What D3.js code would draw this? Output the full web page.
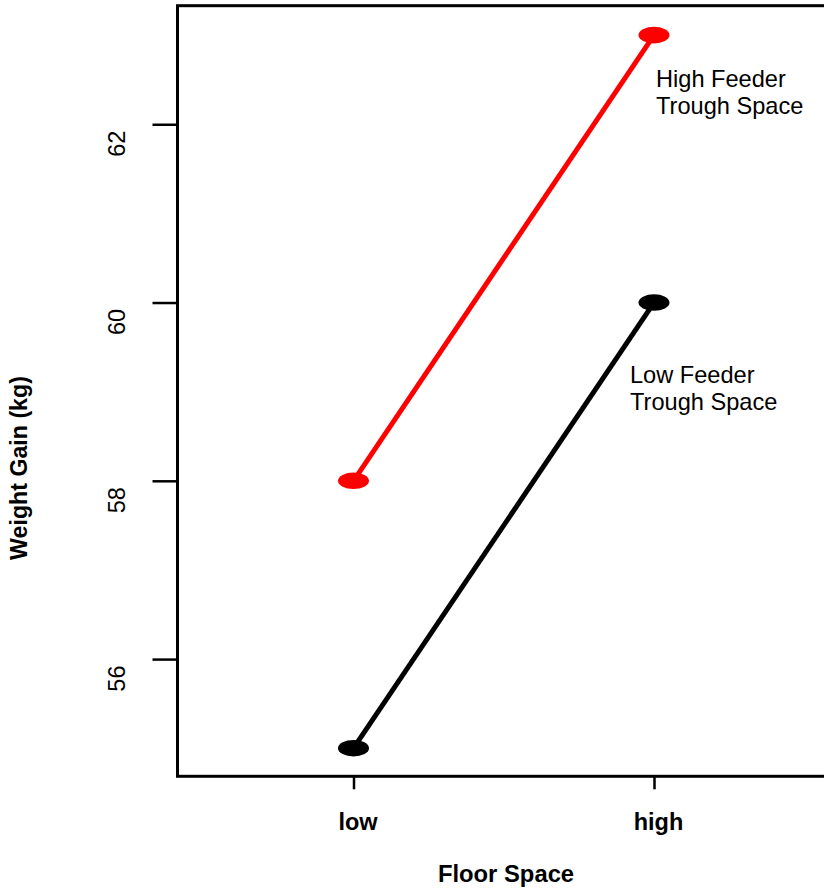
<!DOCTYPE html>
<html>
<head>
<meta charset="utf-8">
<script src="https://cdn.jsdelivr.net/npm/d3@7"></script>
<style>
  html, body { margin: 0; padding: 0; background: #fff; }
  svg { display: block; }
  text { font-family: "Liberation Sans", Arial, sans-serif; }
</style>
</head>
<body>
<svg id="chart" width="824" height="889"></svg>
<script>
// ---- data ----
const floorSpace = ["low", "high"];
const highFeeder = [58, 63];
const lowFeeder = [55, 60];
const yTicks = [56, 58, 60, 62];
const seriesLabels = [["High Feeder", "Trough Space"], ["Low Feeder", "Trough Space"]];
const seriesColors = ["#ff0000", "#000000"];
const xTitle = "Floor Space";
const yTitle = "Weight Gain (kg)";

// ---- layout ----
const svg = d3.select("#chart");
const boxL = 177.5, boxT = 5.7, boxB = 776.3, boxR = 832;

const x = d3.scaleLinear().domain([1, 2]).range([353.5, 654]);
const y = d3.scaleLinear().domain([54.685, 63.33]).range([boxB, boxT]);

// box
svg.append("rect")
  .attr("x", boxL).attr("y", boxT)
  .attr("width", boxR - boxL).attr("height", boxB - boxT)
  .attr("fill", "none").attr("stroke", "#000").attr("stroke-width", 3);

// y axis
const yAxis = svg.append("g")
  .attr("transform", `translate(${boxL},0)`)
  .call(d3.axisLeft(y).tickValues(yTicks).tickSize(25).tickFormat(d3.format("d")));
yAxis.select(".domain").remove();
yAxis.selectAll(".tick line").attr("stroke", "#000").attr("stroke-width", 2.5);
yAxis.selectAll(".tick text")
  .attr("x", null).attr("dy", null)
  .attr("transform", "translate(-53,19) rotate(-90)")
  .attr("text-anchor", "middle")
  .attr("font-size", 23.5)
  .attr("font-family", "Liberation Sans, Arial, sans-serif")
  .attr("fill", "#000");

// x axis
const xAxis = svg.append("g")
  .attr("transform", `translate(0,${boxB})`)
  .call(d3.axisBottom(x).tickValues([1, 2]).tickSize(13)
    .tickFormat((d) => floorSpace[d - 1]));
xAxis.select(".domain").remove();
xAxis.selectAll(".tick line").attr("stroke", "#000").attr("stroke-width", 2.5);
xAxis.selectAll(".tick text")
  .attr("y", 54).attr("dy", null).attr("x", 4)
  .attr("font-size", 23.5).attr("font-weight", "bold")
  .attr("font-family", "Liberation Sans, Arial, sans-serif")
  .attr("fill", "#000");

// axis titles
svg.append("text")
  .attr("x", 506).attr("y", 882)
  .attr("text-anchor", "middle")
  .attr("font-size", 23.8).attr("font-weight", "bold")
  .text(xTitle);

svg.append("text")
  .attr("transform", "translate(27,468) rotate(-90)")
  .attr("text-anchor", "middle")
  .attr("font-size", 23.2).attr("font-weight", "bold")
  .text(yTitle);

// series
const series = [highFeeder, lowFeeder];
const line = d3.line().x((d, i) => x(i + 1)).y((d) => y(d));
series.forEach((vals, s) => {
  svg.append("path")
    .attr("d", line(vals))
    .attr("fill", "none")
    .attr("stroke", seriesColors[s])
    .attr("stroke-width", 5);
  svg.selectAll(null)
    .data(vals)
    .enter()
    .append("ellipse")
    .attr("cx", (d, i) => x(i + 1))
    .attr("cy", (d) => y(d))
    .attr("rx", 15.5).attr("ry", 8.3)
    .attr("fill", seriesColors[s]);
});

// series labels (placed next to the "high" point)
const labelPos = [
  { dx: 2, dy: 52 },
  { dx: -24, dy: 80 }
];
series.forEach((vals, s) => {
  const t = svg.append("text")
    .attr("font-size", 23.6)
    .attr("fill", "#000");
  seriesLabels[s].forEach((ln, k) => {
    t.append("tspan")
      .attr("x", x(2) + labelPos[s].dx)
      .attr("y", y(vals[1]) + labelPos[s].dy + k * 27)
      .text(ln);
  });
});
</script>
</body>
</html>
